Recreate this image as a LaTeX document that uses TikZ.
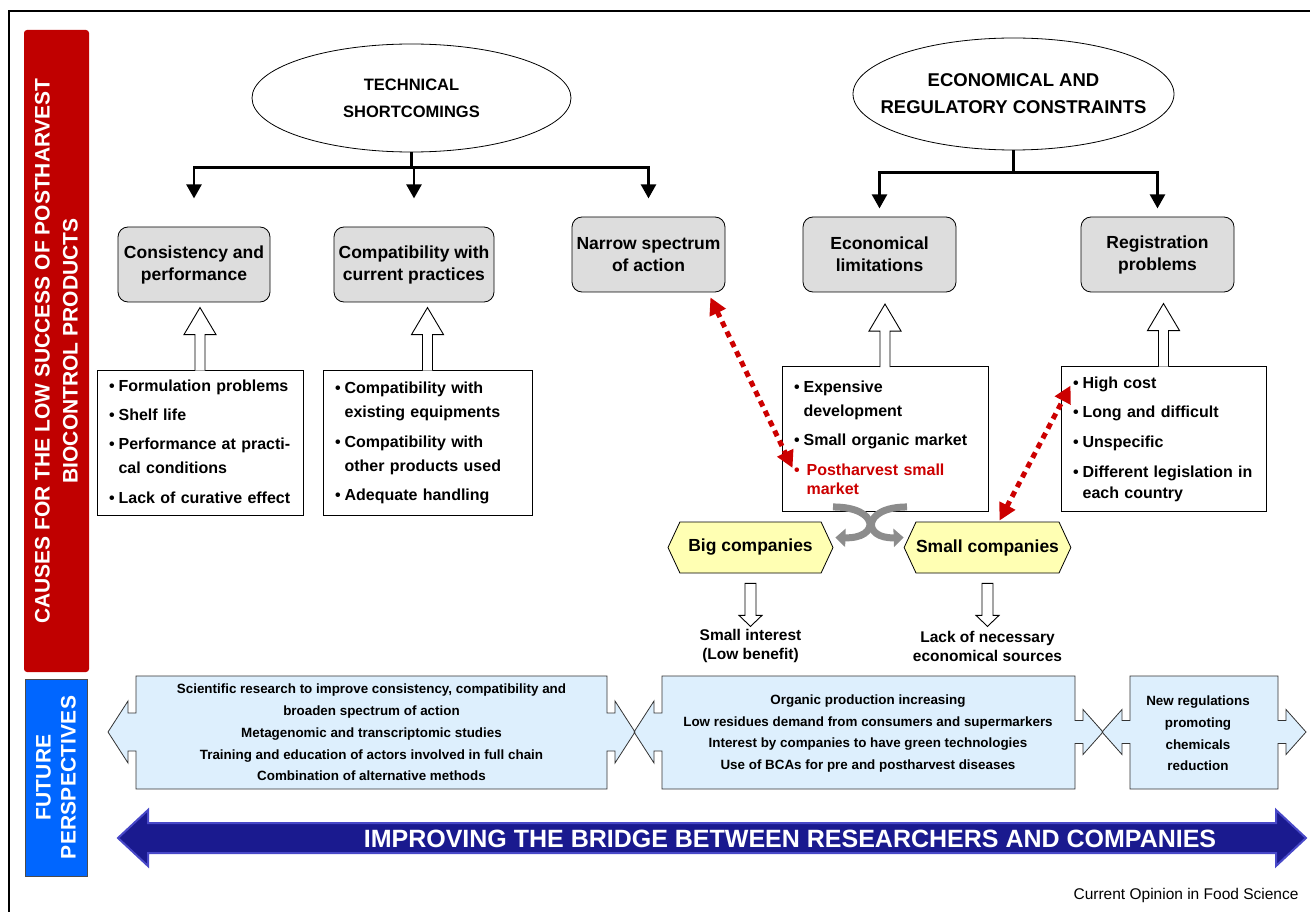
\documentclass[tikz,border=0pt]{standalone}
\usepackage{fontspec}
\setmainfont{Liberation Sans}
\usetikzlibrary{arrows.meta,calc,positioning,shapes.geometric,shapes.symbols}

\definecolor{sidered}{HTML}{C00000}
\definecolor{sideblue}{HTML}{0066FF}
\definecolor{boxgrey}{HTML}{DDDDDD}
\definecolor{hexyellow}{HTML}{FFFFB3}
\definecolor{paleblue}{HTML}{DDEFFD}
\definecolor{bridgeblue}{HTML}{1A1A8F}
\definecolor{bridgeedge}{HTML}{4848C8}
\definecolor{dotred}{HTML}{CC0000}
\definecolor{curvegrey}{HTML}{8C8C8C}

\newcommand\hollowup[1]{%
  \draw[hollow] ($#1+(-5,1)$) -- ++(0,-36) -- ++(-11,0) -- ++(16,-27) -- ++(16,27) -- ++(-11,0) -- ++(0,36);}
\newcommand\hollowdown[1]{%
  \draw[hollow] ($#1+(-5.5,10)$) -- ++(0,32) -- ++(-6,0) -- ++(11.5,11) -- ++(11.5,-11) -- ++(-6,0) -- ++(0,-32) -- cycle;}
% #2/#3 left/right edge, #4/#5 left head/shaft half height, #6/#7 right head/shaft half height
\newcommand\callout[7]{%
  \path[#1] (#2,676) -- (#3,676) -- (#3,{732-#7}) -- ++(8,0) -- (#3+8,{732-#6}) -- (#3+28,732) -- (#3+8,{732+#6})
    -- (#3+8,{732+#7}) -- (#3,{732+#7}) -- (#3,789) -- (#2,789) -- (#2,{732+#5}) -- (#2-8,{732+#5}) -- (#2-8,{732+#4})
    -- (#2-28,732) -- (#2-8,{732-#4}) -- (#2-8,{732-#5}) -- (#2,{732-#5}) -- cycle;}

\begin{document}
\begin{tikzpicture}[x=1pt, y=-1pt,
  sidebar/.style={fill, text=white, align=center, inner sep=0pt},
  headell/.style={draw, ellipse, line width=0.8pt},
  headtext/.style={align=center, inner sep=0pt},
  causebox/.style={draw, fill=boxgrey, line width=0.8pt, rounded corners=10pt, minimum height=75pt,
    align=center, font=\fontsize{17.5}{22}\selectfont\bfseries},
  listbox/.style={draw, fill=white, line width=0.9pt, inner xsep=12pt, minimum height=145pt,
    align=left, font=\fontsize{16}{24}\selectfont\bfseries},
  tree/.style={line width=2.5pt},
  treearr/.style={line width=2.5pt, -{Triangle[length=14pt,width=15pt]}},
  hollow/.style={draw=black, fill=white, line width=0.9pt},
  hexbox/.style={draw, fill=hexyellow, line width=0.8pt, signal, signal to=east and west, signal pointer angle=130,
    minimum width=165pt, minimum height=51pt, inner sep=0pt, font=\fontsize{17.5}{20}\selectfont\bfseries},
  reddots/.style={dotred, line width=5pt, dash pattern=on 6pt off 5pt,
    {Triangle[length=17pt,width=17pt]}-{Triangle[length=17pt,width=17pt]}},
  curvearr/.style={curvegrey, line width=7pt, -{Triangle[length=10pt,width=18pt]}},
  outcome/.style={align=center, font=\fontsize{15.5}{19}\selectfont\bfseries},
  future/.style={align=center, font=\fontsize{13.4}{21.75}\selectfont\bfseries},
]
\useasboundingbox (0,0) rectangle (1310,912);
\draw[line width=1.3pt] (9,912) -- (9,11) -- (1310,11);

\node[sidebar, fill=sidered, rotate=90, rounded corners=3pt, minimum width=642pt, minimum height=65pt,
  font=\fontsize{21}{28}\selectfont\bfseries] (causes) at (56.5,351)
  {CAUSES FOR THE LOW SUCCESS OF POSTHARVEST\\BIOCONTROL PRODUCTS};
\node[sidebar, fill=sideblue, draw=black!70, line width=0.8pt, rotate=90, minimum width=197pt, minimum height=62pt,
  font=\fontsize{21}{25}\selectfont\bfseries\addfontfeature{LetterSpace=1}] (future) at (56,777.5)
  {FUTURE\\PERSPECTIVES};

\node[headell, minimum width=319pt, minimum height=108pt] (t1) at (411.5,98) {};
\node[headtext, font=\fontsize{16.5}{27}\selectfont\bfseries] (t1txt) at (t1) {TECHNICAL\\SHORTCOMINGS};
\node[headell, minimum width=321pt, minimum height=112pt] (t2) at (1013.5,94) {};
\node[headtext, font=\fontsize{18.5}{27}\selectfont\bfseries] (t2txt) at (t2) {ECONOMICAL AND\\REGULATORY CONSTRAINTS};

\node[causebox, minimum width=152pt] (c1) at (194,264.5) {Consistency and\\performance};
\node[causebox, minimum width=160pt] (c2) at (414,264.5) {Compatibility with\\current practices};
\node[causebox, minimum width=153pt] (c3) at (648.5,254.5) {Narrow spectrum\\of action};
\node[causebox, minimum width=153pt] (c4) at (879.5,254.5) {Economical\\limitations};
\node[causebox, minimum width=153pt] (c5) at (1157.5,254.5) {Registration\\problems};

\draw[tree] (t1.south) -- ++(0,15) coordinate (j1);
\foreach \c in {c1,c2,c3}
  \draw[treearr] (j1) -| ($(\c.north |- j1)+(0,31)$);
\draw[tree] (t2.south) -- ++(0,22) coordinate (j2);
\foreach \c in {c4,c5}
  \draw[treearr] (j2) -| ($(\c.north |- j2)+(0,36)$);

\node[listbox, text width=182pt] (l1) at (200,442.5) {%
  \begin{tabular}{@{}l@{\hspace{4pt}}l@{}}
  \textbullet & Formulation problems\\[5pt]
  \textbullet & Shelf life\\[5pt]
  \textbullet & Performance at practi-\\
   & cal conditions\\[6pt]
  \textbullet & Lack of curative effect
  \end{tabular}};
\node[listbox, text width=185pt] (l2) at (427.5,442.5) {%
  \begin{tabular}{@{}l@{\hspace{4pt}}l@{}}
  \textbullet & Compatibility with\\
   & existing equipments\\[6pt]
  \textbullet & Compatibility with\\
   & other products used\\[5pt]
  \textbullet & Adequate handling
  \end{tabular}};
\node[listbox, text width=182pt] (l3) at (885,439) {%
  \begin{tabular}{@{}l@{\hspace{4pt}}l@{}}
  \textbullet & Expensive\\
   & development\\[5pt]
  \textbullet & Small organic market\\[6pt]
  \textcolor{dotred}{\textbullet} & \textcolor{dotred}{\hspace{3pt}Postharvest small}\\[-5pt]
   & \textcolor{dotred}{\hspace{3pt}market}
  \end{tabular}};
\node[listbox, text width=181pt] (l4) at (1163.5,438.5) {%
  \begin{tabular}{@{}l@{\hspace{4pt}}l@{}}
  \textbullet & High cost\\[5pt]
  \textbullet & Long and difficult\\[6pt]
  \textbullet & Unspecific\\[6pt]
  \textbullet & Different legislation in\\[-3pt]
   & each country
  \end{tabular}};

\foreach \l in {l1,l2,l3,l4}{\hollowup{(\l.north)}}

\node[hexbox] (bc) at (750.5,547.5) {Big companies};
\node[hexbox] (sc) at (987.5,547.5) {Small companies};

\draw[curvearr] ($(l3.south)+(-52,-5)$) .. controls ($(l3.south)+(-5,-5)$) and ($(l3.south)+(-5,27)$) .. ($(bc.east)+(2,-10)$);
\draw[curvearr] ($(l3.south)+(22,-5)$) .. controls ($(l3.south)+(-23,-5)$) and ($(l3.south)+(-23,27)$) .. ($(sc.west)+(0,-10)$);

\draw[reddots] ($(c3.south east)+(-15,5)$) -- ($(l3.west)+(11,29)$);
\draw[reddots] ($(sc.north)+(12,-1)$) -- ($(l4.north west)+(10,20)$);

\hollowdown{(bc.south)}
\hollowdown{(sc.south)}
\node[outcome] (si) at (750.5,646) {Small interest\\(Low benefit)};
\node[outcome] (lr) at (987.5,646) {Lack of necessary\\economical sources};

\foreach \l/\r/\lh/\ls/\rh/\rs in {136/607/31/19/31/19, 662/1075/31/19/22.5/11.5, 1130/1278/22.5/11.5/22.5/11.5}
  {\callout{fill=paleblue}{\l}{\r}{\lh}{\ls}{\rh}{\rs}}
\foreach \l/\r/\lh/\ls/\rh/\rs in {136/607/31/19/31/19, 662/1075/31/19/22.5/11.5, 1130/1278/22.5/11.5/22.5/11.5}
  {\callout{draw=black!80, line width=0.8pt}{\l}{\r}{\lh}{\ls}{\rh}{\rs}}
\node[future] (fa) at (371.5,732.5) {Scientific research to improve consistency, compatibility and\\broaden spectrum of action\\
  Metagenomic and transcriptomic studies\\Training and education of actors involved in full chain\\Combination of alternative methods};
\node[future] (fb) at (868,733.5) {Organic production increasing\\Low residues demand from consumers and supermarkers\\
  Interest by companies to have green technologies\\Use of BCAs for pre and postharvest diseases};
\node[future] (fc) at (1198,733.5) {New regulations\\promoting\\chemicals\\reduction};

\draw[fill=bridgeblue, draw=bridgeedge, line width=2pt] (118,838) -- (148,810) -- (148,823) -- (1276,823) -- (1276,810)
  -- (1306,838) -- (1276,866) -- (1276,853) -- (148,853) -- (148,866) -- cycle;
\node[text=white, font=\fontsize{25}{28}\selectfont\bfseries] (bridge) at (790,839) {IMPROVING THE BRIDGE BETWEEN RESEARCHERS AND COMPANIES};

\node[anchor=east, font=\fontsize{15.5}{18}\selectfont] (src) at (1302,895) {Current Opinion in Food Science};
\end{tikzpicture}
\end{document}
